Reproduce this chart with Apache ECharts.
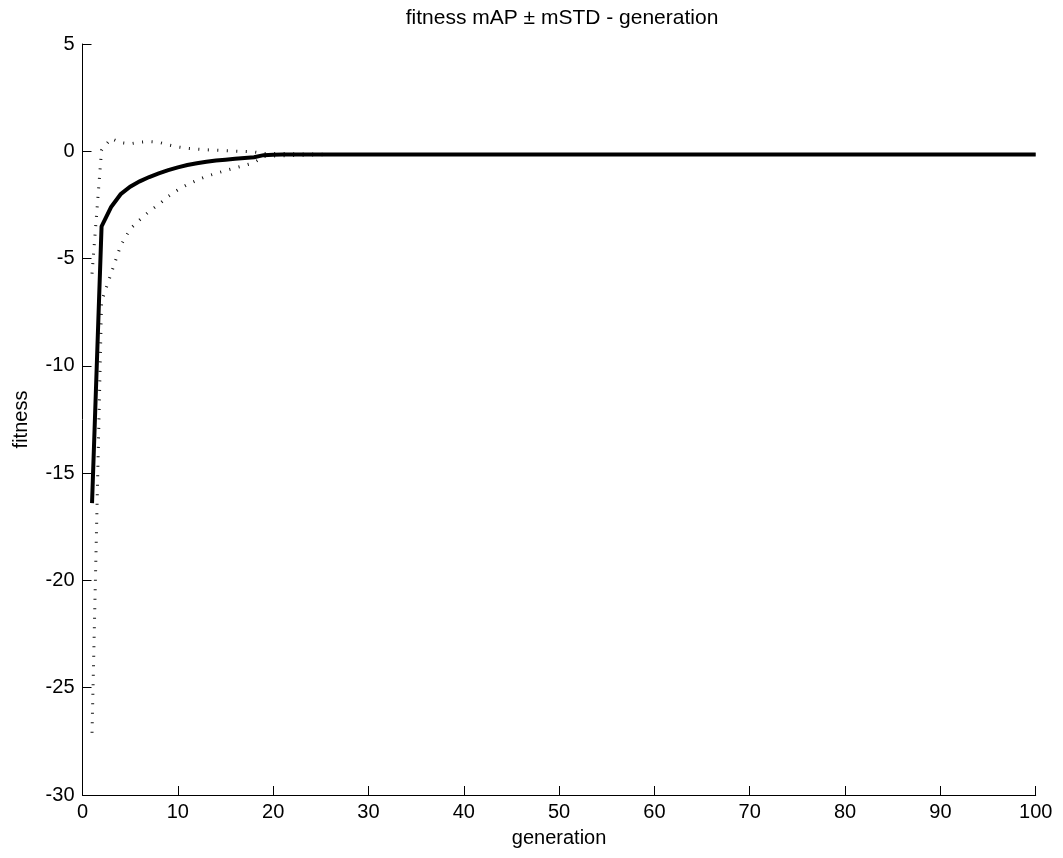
<!DOCTYPE html>
<html>
<head>
<meta charset="utf-8">
<script src="https://cdn.jsdelivr.net/npm/echarts@6/dist/echarts.min.js"></script>
<style>html,body{margin:0;padding:0;background:#fff}#c{width:1063px;height:858px}</style>
</head>
<body>
<div id="c"></div>
<script>
var titleText = 'fitness mAP \u00b1 mSTD - generation';
var xName = 'generation';
var yName = 'fitness';
var xTicks = [0, 10, 20, 30, 40, 50, 60, 70, 80, 90, 100];
var yTicks = [5, 0, -5, -10, -15, -20, -25, -30];

var generations = [1,2,3,4,5,6,7,8,9,10,11,12,13,14,15,16,17,18,19,20,21,22,23,24,25,26,27,28,29,30,31,32,33,34,35,36,37,38,39,40,41,42,43,44,45,46,47,48,49,50,51,52,53,54,55,56,57,58,59,60,61,62,63,64,65,66,67,68,69,70,71,72,73,74,75,76,77,78,79,80,81,82,83,84,85,86,87,88,89,90,91,92,93,94,95,96,97,98,99,100];

var meanFitness = [-16.4,-3.5,-2.6,-2.0,-1.65,-1.4,-1.2,-1.03,-0.88,-0.75,-0.64,-0.56,-0.49,-0.43,-0.39,-0.35,-0.31,-0.28,-0.18,-0.16,
-0.15,-0.15,-0.15,-0.15,-0.15,-0.15,-0.15,-0.15,-0.15,-0.15,-0.15,-0.15,-0.15,-0.15,-0.15,-0.15,-0.15,-0.15,-0.15,-0.15,
-0.15,-0.15,-0.15,-0.15,-0.15,-0.15,-0.15,-0.15,-0.15,-0.15,-0.15,-0.15,-0.15,-0.15,-0.15,-0.15,-0.15,-0.15,-0.15,-0.15,
-0.15,-0.15,-0.15,-0.15,-0.15,-0.15,-0.15,-0.15,-0.15,-0.15,-0.15,-0.15,-0.15,-0.15,-0.15,-0.15,-0.15,-0.15,-0.15,-0.15,
-0.15,-0.15,-0.15,-0.15,-0.15,-0.15,-0.15,-0.15,-0.15,-0.15,-0.15,-0.15,-0.15,-0.15,-0.15,-0.15,-0.15,-0.15,-0.15,-0.15];

var upperBound = [-5.7,0.05,0.6,0.4,0.35,0.42,0.45,0.42,0.3,0.2,0.14,0.1,0.07,0.05,0.03,0.01,-0.01,-0.03,-0.1,-0.1,
-0.1,-0.11,-0.12,-0.13,-0.14,-0.15,-0.15,-0.15,-0.15,-0.15,-0.15,-0.15,-0.15,-0.15,-0.15,-0.15,-0.15,-0.15,-0.15,-0.15,
-0.15,-0.15,-0.15,-0.15,-0.15,-0.15,-0.15,-0.15,-0.15,-0.15,-0.15,-0.15,-0.15,-0.15,-0.15,-0.15,-0.15,-0.15,-0.15,-0.15,
-0.15,-0.15,-0.15,-0.15,-0.15,-0.15,-0.15,-0.15,-0.15,-0.15,-0.15,-0.15,-0.15,-0.15,-0.15,-0.15,-0.15,-0.15,-0.15,-0.15,
-0.15,-0.15,-0.15,-0.15,-0.15,-0.15,-0.15,-0.15,-0.15,-0.15,-0.15,-0.15,-0.15,-0.15,-0.15,-0.15,-0.15,-0.15,-0.15,-0.15];

var lowerBound = [-27.1,-7.0,-5.7,-4.4,-3.62,-3.2,-2.8,-2.48,-2.1,-1.8,-1.55,-1.35,-1.17,-1.03,-0.9,-0.78,-0.66,-0.53,-0.24,-0.22,
-0.21,-0.2,-0.19,-0.17,-0.16,-0.15,-0.15,-0.15,-0.15,-0.15,-0.15,-0.15,-0.15,-0.15,-0.15,-0.15,-0.15,-0.15,-0.15,-0.15,
-0.15,-0.15,-0.15,-0.15,-0.15,-0.15,-0.15,-0.15,-0.15,-0.15,-0.15,-0.15,-0.15,-0.15,-0.15,-0.15,-0.15,-0.15,-0.15,-0.15,
-0.15,-0.15,-0.15,-0.15,-0.15,-0.15,-0.15,-0.15,-0.15,-0.15,-0.15,-0.15,-0.15,-0.15,-0.15,-0.15,-0.15,-0.15,-0.15,-0.15,
-0.15,-0.15,-0.15,-0.15,-0.15,-0.15,-0.15,-0.15,-0.15,-0.15,-0.15,-0.15,-0.15,-0.15,-0.15,-0.15,-0.15,-0.15,-0.15,-0.15];

function pairs(ys) { return generations.map(function (g, i) { return [g, ys[i]]; }); }

var FONT = '"Liberation Sans", Arial, sans-serif';
var FS = 20;
var chart = echarts.init(document.getElementById('c'), null, { renderer: 'canvas' });
var dotted = { color: '#111', width: 3, type: [1, 8.5], cap: 'butt' };
chart.setOption({
  animation: false,
  backgroundColor: '#fff',
  title: {
    text: titleText, left: 557, top: 3, textAlign: 'center',
    textStyle: { fontFamily: FONT, fontSize: 21, fontWeight: 'normal', color: '#000' }
  },
  grid: { left: 82.5, right: 27.3, top: 44, bottom: 63, containLabel: false },
  xAxis: {
    type: 'value', min: xTicks[0], max: xTicks[xTicks.length - 1], interval: 10,
    name: xName, nameLocation: 'middle', nameGap: 33,
    nameTextStyle: { fontFamily: FONT, fontSize: FS, color: '#000' },
    axisLine: { show: true, onZero: false, lineStyle: { color: '#000', width: 1 } },
    axisTick: { show: true, inside: true, length: 9, lineStyle: { color: '#000', width: 1 } },
    axisLabel: { fontFamily: FONT, fontSize: FS, color: '#000', margin: 7 },
    splitLine: { show: false }
  },
  yAxis: {
    type: 'value', min: yTicks[yTicks.length - 1], max: yTicks[0], interval: 5,
    name: yName, nameLocation: 'middle', nameGap: 51, nameRotate: 90,
    nameTextStyle: { fontFamily: FONT, fontSize: FS, color: '#000' },
    axisLine: { show: true, onZero: false, lineStyle: { color: '#000', width: 1 } },
    axisTick: { show: true, inside: true, length: 9, lineStyle: { color: '#000', width: 1 } },
    axisLabel: { fontFamily: FONT, fontSize: FS, color: '#000', margin: 8 },
    splitLine: { show: false }
  },
  series: [
    { type: 'line', data: pairs(lowerBound), symbol: 'none', lineStyle: dotted, z: 2 },
    { type: 'line', data: pairs(upperBound), symbol: 'none', lineStyle: dotted, z: 2 },
    { type: 'line', data: pairs(meanFitness), symbol: 'none', lineStyle: { color: '#000', width: 4, join: 'miter' }, z: 3 }
  ]
});
</script>
</body>
</html>
